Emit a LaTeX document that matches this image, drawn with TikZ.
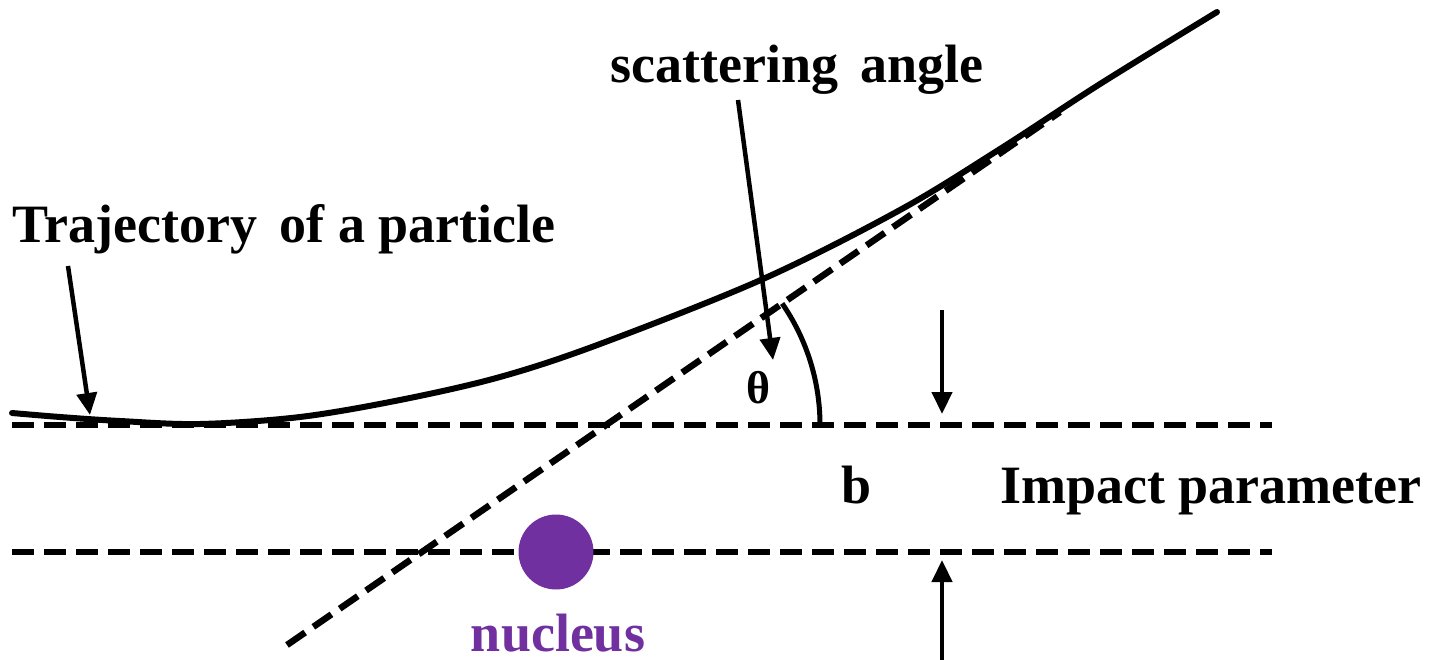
\documentclass[tikz,border=0pt]{standalone}
\usepackage{fontspec}
\setmainfont{Liberation Serif}
\usetikzlibrary{arrows.meta}
\definecolor{nucpurple}{RGB}{112,48,160}
\begin{document}
\begin{tikzpicture}[x=1pt,y=-1pt,
  dashline/.style={line width=6.5pt,dash pattern=on 22pt off 10pt},
  traj/.style={line width=6pt,line cap=round},
  pointer/.style={line width=4.5pt,-{Triangle[length=22pt,width=20pt]}},
  lbl/.style={font=\fontsize{54}{60}\selectfont\bfseries,inner sep=0pt},
]
\useasboundingbox (0,0) rectangle (1435,660);
% reference lines
\coordinate (tl) at (12,425); \coordinate (tr) at (1272,425);
\coordinate (bl) at (12,552); \coordinate (br) at (1272,552);
\coordinate (as) at (287,645); \coordinate (ae) at (1060,112);
\coordinate (O) at (606,425);
\draw[dashline] (tl) -- (tr);
\draw[dashline] (bl) -- (br);
\draw[dashline] (as) -- (ae);
% nucleus
\node[circle, fill=nucpurple, minimum size=75pt, inner sep=0pt] (nuc) at (556,552) {};
\node[lbl, text=nucpurple, anchor=base] (nuclab) at (558,651) {nucleus};
% trajectory
\draw[traj] plot[smooth, tension=0.55] coordinates {(12,413) (60,417) (120,421) (200,424) (300,417) (400,400) (500,377) (600,344) (763,279) (900,210) (1000,149) (1100,84) (1217,12)};
% angle
\draw[line width=5pt] (820,425) coordinate (arcstart) arc[start angle=0, end angle=34.6, radius=214pt];
\node[font=\fontsize{46}{50}\selectfont\bfseries, inner sep=0pt] (theta) at (758,388) {θ};
% labels
\node[lbl, anchor=base west] (trajlab) at (12,243) {Trajectory\, of a particle};
\node[lbl, anchor=base west] (scatlab) at (610,83) {scattering\, angle};
\node[lbl, anchor=base] (blab) at (857,503) {b};
\node[lbl, anchor=base west] (implab) at (1000,503) {Impact parameter};
% pointers
\coordinate (p1s) at (68,266); \coordinate (p1e) at (90,415);
\coordinate (p2s) at (738,100); \coordinate (p2e) at (773,360);
\coordinate (p3s) at (942,310); \coordinate (p3e) at (942,414);
\coordinate (p4s) at (942,660); \coordinate (p4e) at (942,560);
\draw[pointer] (p1s) -- (p1e);
\draw[pointer] (p2s) -- (p2e);
\draw[pointer] (p3s) -- (p3e);
\draw[pointer] (p4s) -- (p4e);
\end{tikzpicture}
\end{document}
